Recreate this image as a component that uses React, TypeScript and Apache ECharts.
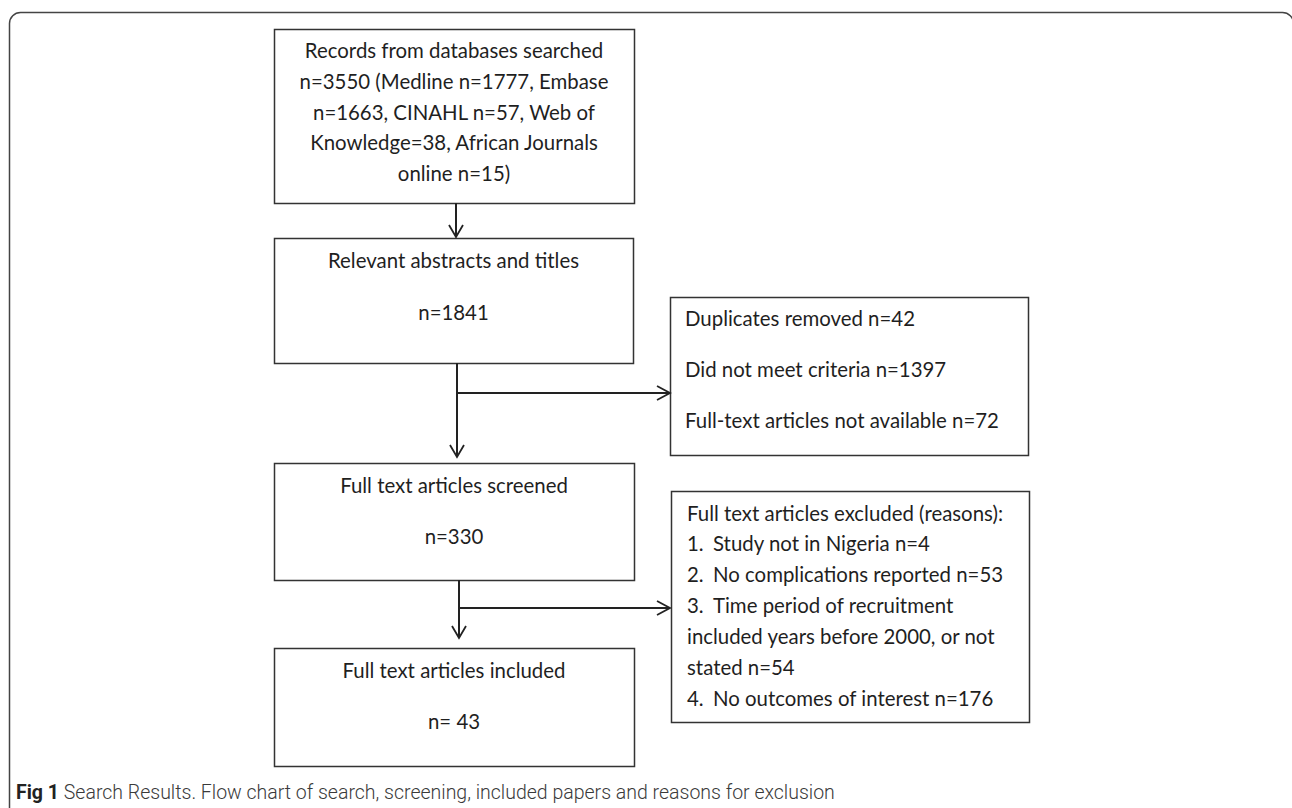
import React, { useEffect, useRef } from "react";
import * as echarts from "echarts";

// ---- Flow chart content (data) ----
const recordsLines = [
  "Records from databases searched",
  "n=3550 (Medline n=1777, Embase",
  "n=1663, CINAHL n=57, Web of",
  "Knowledge=38, African Journals",
  "online n=15)",
];
const abstractsLines = ["Relevant abstracts and titles", "", "n=1841"];
const screenedLines = ["Full text articles screened", "", "n=330"];
const includedLines = ["Full text articles included", "", "n= 43"];
const removedLines = [
  "Duplicates removed n=42",
  "",
  "Did not meet criteria n=1397",
  "",
  "Full-text articles not available n=72",
];
const excludedTitle = "Full text articles excluded (reasons):";
const excludedNums = ["1.", "2.", "3.", "", "", "4."];
const excludedReasons = [
  "Study not in Nigeria n=4",
  "No complications reported n=53",
  "Time period of recruitment",
  "included years before 2000, or not",
  "stated n=54",
  "No outcomes of interest n=176",
];
const captionBold = "Fig 1";
const captionText =
  " Search Results. Flow chart of search, screening, included papers and reasons for exclusion";

// ---- Layout ----
const FONT = "Lato, 'Open Sans', sans-serif";
const FS = 20.4;
const LINE = "#333333";
const TXT = "#1f1f1f";

type Box = { x: number; y: number; w: number; h: number };
const B1: Box = { x: 274, y: 29, w: 360, h: 174 };
const B2: Box = { x: 274, y: 238, w: 359, h: 125 };
const B3: Box = { x: 274, y: 463, w: 360, h: 117 };
const B4: Box = { x: 274, y: 648, w: 360, h: 118 };
const BA: Box = { x: 670, y: 297, w: 358, h: 158 };
const BB: Box = { x: 671, y: 491, w: 358, h: 231 };

function rectEl(b: Box) {
  return {
    type: "rect",
    shape: { x: b.x + 0.5, y: b.y + 0.5, width: b.w, height: b.h },
    style: { fill: "#ffffff", stroke: LINE, lineWidth: 1.5 },
  };
}

function textEl(text: string, x: number, y: number, align: string) {
  return {
    type: "text",
    x,
    y,
    style: {
      text,
      fill: TXT,
      fontSize: FS,
      fontFamily: FONT,
      align,
      verticalAlign: "middle",
    },
  };
}

function centeredLines(lines: string[], b: Box, firstY: number, step: number) {
  return lines
    .map((t, i) => (t ? textEl(t, b.x + b.w / 2, firstY + i * step, "center") : null))
    .filter(Boolean);
}

function lineEl(x1: number, y1: number, x2: number, y2: number) {
  return {
    type: "line",
    shape: { x1, y1, x2, y2 },
    style: { stroke: "#222222", lineWidth: 2 },
  };
}

function arrowDown(x: number, y1: number, y2: number) {
  return [
    lineEl(x, y1, x, y2),
    {
      type: "polyline",
      shape: { points: [[x - 7, y2 - 12], [x, y2], [x + 7, y2 - 12]] },
      style: { stroke: "#222222", lineWidth: 1.8, fill: "none" },
    },
  ];
}

function arrowRight(x1: number, x2: number, y: number) {
  return [
    lineEl(x1, y, x2, y),
    {
      type: "polyline",
      shape: { points: [[x2 - 13, y - 7], [x2, y], [x2 - 13, y + 7]] },
      style: { stroke: "#222222", lineWidth: 1.8, fill: "none" },
    },
  ];
}

export default function App() {
  const ref = useRef<HTMLDivElement>(null);
  useEffect(() => {
    if (!ref.current) return;
    const chart = echarts.init(ref.current, undefined, { renderer: "svg" });

    const elements: any[] = [];
    // outer frame
    elements.push({
      type: "rect",
      shape: { x: 9.5, y: 12.5, width: 1284, height: 830, r: 11 },
      style: { fill: "none", stroke: "#444444", lineWidth: 1.5 },
    });

    [B1, B2, B3, B4, BA, BB].forEach((b) => elements.push(rectEl(b)));

    elements.push(...centeredLines(recordsLines, B1, 50, 30.8));
    elements.push(...centeredLines(abstractsLines, B2, 260, 26));
    elements.push(...centeredLines(screenedLines, B3, 485, 25.5));
    elements.push(...centeredLines(includedLines, B4, 670, 25.5));

    removedLines.forEach((t, i) => {
      if (t) elements.push(textEl(t, 685, 318 + i * 25.5, "left"));
    });

    elements.push(textEl(excludedTitle, 687, 513, "left"));
    excludedReasons.forEach((t, i) => {
      const y = 543 + i * 31;
      const num = excludedNums[i];
      if (num) {
        elements.push(textEl(num, 687, y, "left"));
        elements.push(textEl(t, 713, y, "left"));
      } else {
        elements.push(textEl(t, 687, y, "left"));
      }
    });

    // connectors
    elements.push(...arrowDown(456, 203, 237));
    elements.push(...arrowDown(457, 363, 457));
    elements.push(...arrowRight(457, 670, 393));
    elements.push(...arrowDown(459, 580, 638));
    elements.push(...arrowRight(458, 670, 608));

    // caption
    elements.push({
      type: "text",
      x: 16,
      y: 792,
      style: {
        text: "{b|" + captionBold + "}" + captionText,
        fill: "#3a3a3a",
        fontSize: 19.5,
        fontWeight: 300,
        fontFamily: "Roboto, sans-serif",
        verticalAlign: "middle",
        rich: {
          b: {
            fontWeight: "bold",
            fontSize: 19.5,
            fill: "#222222",
            fontFamily: "Roboto, sans-serif",
          },
        },
      },
    });

    chart.setOption({
      animation: false,
      backgroundColor: "#ffffff",
      graphic: { elements },
    });
    return () => chart.dispose();
  }, []);

  return (
    <div
      ref={ref}
      style={{ position: "absolute", left: 0, top: 0, width: 1292, height: 808 }}
    />
  );
}
